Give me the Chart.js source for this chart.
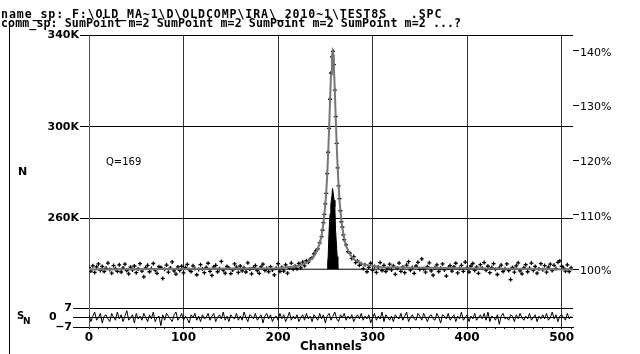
<!DOCTYPE html>
<html>
<head>
<meta charset="utf-8">
<script src="https://cdn.jsdelivr.net/npm/chart.js@4.4.1/dist/chart.umd.min.js"></script>
<style>
  html, body { margin: 0; padding: 0; background: #fff; }
  #wrap { position: relative; width: 640px; height: 354px; overflow: hidden; }
  #c { position: absolute; left: 0; top: 0; }
  .txt { position: absolute; white-space: pre; color: #000; line-height: 1; }
  .hdr { font: bold 11.6px "DejaVu Sans Mono", monospace; left: 1px; }
  .lbl { font: bold 11px "DejaVu Sans", sans-serif; }
  .frame { position: absolute; left: 9px; top: 21px; height: 333px; border-left: 1px solid #000; }
</style>
</head>
<body>
<div id="wrap">
  <canvas id="c" width="640" height="354"></canvas>
  <div class="frame"></div>
  <div class="txt hdr" style="top:7px;letter-spacing:0.9px">name_sp: F:\OLD_MA~1\D\OLDCOMP\IRA\_2010~1\TEST8S   .SPC</div>
  <div class="txt hdr" style="top:16px;letter-spacing:0.1px">comm_sp: SumPoint m=2 SumPoint m=2 SumPoint m=2 SumPoint m=2 ...?</div>
  <div class="txt lbl" style="left:18px;top:165px">N</div>
  <div class="txt" style="left:106px;top:156px;font:10px 'DejaVu Sans',sans-serif">Q=169</div>
  <div class="txt lbl" style="left:17px;top:310px;font-size:10px">S</div>
  <div class="txt lbl" style="left:23px;top:316px;font-size:9px">N</div>
</div>
<script>
// ── data (counts in thousands, channels 0..510 step 2) ──────────
const CH_STEP = 2;
const countsK = [
  238.6,237.1,239.4,236.5,238.9,240.2,237.4,239.1,236.9,238.3,240.6,237.8,236.2,239.5,238.1,237.0,
  239.8,236.7,238.4,240.1,237.3,235.9,238.8,237.6,239.3,236.4,238.0,240.3,237.1,234.6,238.5,239.6,
  236.8,238.2,240.4,237.5,236.1,239.0,238.7,233.9,237.9,239.7,236.6,238.4,241.1,237.2,235.8,238.9,
  237.4,239.2,236.3,238.6,240.0,237.7,236.9,239.4,238.2,235.5,237.8,239.9,238.0,236.4,238.7,240.5,
  237.0,235.2,238.9,239.6,236.8,238.1,241.3,237.5,236.2,239.1,238.4,236.0,237.6,240.2,238.8,236.5,
  239.3,237.2,238.5,236.7,240.7,238.0,235.9,238.6,239.5,237.3,236.1,238.9,240.1,237.4,238.2,236.8,
  239.0,237.6,235.4,238.3,240.3,236.9,238.7,237.1,239.8,236.2,238.4,240.6,237.9,239.2,238.1,240.4,
  238.5,241.0,239.4,241.6,240.9,242.3,242.9,244.6,245.9,246.8,249.4,252.1,258.2,266.4,279.6,299.3,
  323.4,332.9,316.0,292.8,274.2,263.4,256.3,250.8,248.5,245.6,244.9,242.6,243.4,240.8,241.5,239.6,
  240.3,238.2,239.9,236.8,238.7,240.5,237.4,239.1,236.5,238.9,240.8,237.3,239.6,236.9,238.2,240.1,
  237.6,239.4,235.7,238.3,240.6,237.0,238.8,236.4,239.7,241.2,237.5,238.6,236.1,239.3,240.9,237.8,
  242.4,238.1,236.6,239.0,240.7,237.2,235.3,238.5,239.8,236.9,238.3,240.2,237.6,234.9,238.4,239.5,
  237.1,238.9,240.5,236.3,238.2,239.6,237.0,241.0,238.6,236.7,239.3,240.4,237.4,238.8,236.1,239.9,
  238.3,240.8,237.5,239.2,236.4,238.6,240.3,237.9,235.6,238.4,239.7,236.9,238.1,240.2,237.3,233.4,
  238.7,236.6,239.4,240.7,237.2,235.9,238.5,239.9,236.8,238.3,240.6,237.4,239.1,236.2,238.0,240.3,
  237.7,239.5,236.6,238.8,240.1,237.3,239.6,238.2,240.9,241.5,239.2,238.4,237.1,239.8,236.9,238.5
];
// odd channels read around the peak
const peakOddCh      = [247, 249, 251, 253, 255, 257, 259, 261, 263, 265, 267, 269];
const peakOddCountsK = [254.9, 261.8, 271.0, 288.9, 312.0, 330.5, 327.1, 304.4, 282.1, 268.7, 258.6, 252.9];

// fitted curve
const fitCh      = [0, 200, 220, 230, 236, 240, 244, 246, 248, 250, 251, 252, 253, 254, 255, 256, 257, 257.7, 258.5, 259, 260, 261, 262, 263, 264, 265, 266, 268, 270, 272, 276, 280, 290, 310, 512];
const fitCountsK = [237.8, 238.3, 239.2, 240.6, 242.6, 244.8, 249.0, 252.5, 257.8, 266.0, 271.7, 279.0, 288.3, 299.0, 311.4, 322.9, 331.0, 332.8, 331.5, 326.8, 316.3, 304.0, 292.4, 282.6, 274.5, 268.0, 263.0, 256.0, 251.3, 248.0, 244.4, 242.3, 240.0, 238.8, 237.8];

// baseline and integrated (filled) area
const baseK = 237.9;
const baseCh = [0, 512];
const areaCh      = [252.3, 252.5, 253, 254, 255, 255.8, 257, 257.6, 258.4, 259.3, 260.1, 260.8, 262, 262.5, 263.2, 263.2];
const areaCountsK = [237.9, 241, 243.4, 255, 262, 266, 270, 273.1, 271, 268, 265.1, 255, 247, 243.4, 240, 237.9];

// residuals S_N (channels 0..510 step 2)
const resid = [
  2,-3,1,4,-2,0,3,-4,1,2,-1,-3,3,0,-2,4,
  -1,2,-3,1,5,-2,0,2,-4,3,-1,1,-2,3,0,-3,
  2,-1,4,-3,0,1,-6,2,-2,3,1,-1,-3,2,4,-2,
  0,3,-2,1,-1,-4,2,0,3,-2,1,-3,2,-1,0,3,
  -2,1,3,-3,0,2,-1,4,-2,1,-3,2,0,-1,3,-2,
  1,-2,4,0,-3,2,1,-1,3,-2,0,2,-4,1,3,-1,
  2,-3,0,1,-2,3,-1,2,-3,0,4,-2,1,-1,2,-3,
  0,2,-2,3,-1,1,-3,2,0,-2,3,-1,2,-4,1,3,
  -2,1,4,-1,-3,2,0,3,-2,1,-1,2,-3,0,2,-1,
  3,-2,1,-1,2,-4,0,3,-2,1,-1,4,-3,2,0,-2,
  1,-3,2,0,-1,3,-2,1,4,-3,0,2,-1,-2,3,1,
  -2,3,0,-3,1,2,-1,-2,3,0,-4,2,1,-1,3,-2,
  0,2,-3,1,-1,4,-2,0,2,-3,1,-1,3,-2,0,2,
  -1,3,-2,4,-3,1,0,-2,2,-5,1,3,-1,0,-2,2,
  1,-3,2,-1,3,0,-2,1,-1,3,-2,0,2,-3,1,-1,
  2,-1,3,-2,0,4,-1,2,-3,1,2,0,-2,3,-1,1
];

const yTicksK     = [260, 300, 340];
const residTicks  = [-7, 0, 7];
const pctTicks    = [100, 110, 120, 130, 140];
const xMax = 512;

// ── geometry of the axes ───────────────────────────────────
const Y_MIN = 221, Y_MAX = 340;
const MAIN_PX = 273, RES_PX = 19;
const pxPerK = MAIN_PX / (Y_MAX - Y_MIN);
const pctMax = Y_MAX / baseK * 100;
const pctMin = (Y_MIN - RES_PX / pxPerK) / baseK * 100;

const pts = countsK.map((v, i) => ({ x: i * CH_STEP, y: v }))
  .concat(peakOddCh.map((c, i) => ({ x: c, y: peakOddCountsK[i] })));
const xy = (xs, ys) => xs.map((x, i) => ({ x, y: ys[i] }));

const fixed = (w, h) => s => { if (w != null) s.width = w; if (h != null) s.height = h; };
const setTicks = arr => s => { s.ticks = arr.map(v => ({ value: v })); };

const bold11 = { family: 'DejaVu Sans', size: 11, weight: 'bold' };

new Chart(document.getElementById('c'), {
  type: 'scatter',
  data: {
    datasets: [
      {
        data: xy(areaCh, areaCountsK), showLine: true, yAxisID: 'y',
        borderColor: '#000', backgroundColor: '#000', borderWidth: 1,
        fill: { value: baseK }, pointRadius: 0, tension: 0,
      },
      {
        data: xy(fitCh, fitCountsK), showLine: true, yAxisID: 'y',
        borderColor: '#777', borderWidth: 2, pointRadius: 0, tension: 0,
      },
      {
        data: xy(baseCh, [baseK, baseK]), showLine: true, yAxisID: 'y',
        borderColor: '#000', borderWidth: 1, pointRadius: 0,
      },
      {
        data: pts, yAxisID: 'y', showLine: false,
        pointStyle: 'cross', pointRadius: 2, borderWidth: 1.3,
        borderColor: '#000', backgroundColor: '#000',
      },
      {
        data: resid.map((v, i) => ({ x: i * CH_STEP, y: v })), yAxisID: 'y2',
        showLine: true, borderColor: '#000', borderWidth: 1, pointRadius: 0, tension: 0,
      },
    ],
  },
  options: {
    responsive: false,
    animation: false,
    layout: { padding: { top: 35, left: 0, right: 0, bottom: 0 } },
    plugins: { legend: { display: false }, tooltip: { enabled: false } },
    scales: {
      x: {
        type: 'linear', min: 0, max: xMax,
        afterBuildTicks: s => {
          const t = [];
          for (let v = 0; v < xMax; v += 10) t.push({ value: v });
          s.ticks = t;
        },
        afterFit: fixed(null, 27),
        grid: {
          color: c => (c.tick && c.tick.value % 100 === 0) ? '#333' : 'rgba(0,0,0,0)',
          tickColor: '#000', tickLength: 2, lineWidth: 1,
        },
        border: { display: true, color: '#000' },
        ticks: {
          autoSkip: false, maxRotation: 0, padding: 2, color: '#000',
          font: { family: 'DejaVu Sans', size: 12, weight: 'bold' },
          callback: v => v % 100 === 0 ? String(v) : '',
        },
        title: {
          display: true, text: 'Channels', color: '#000', padding: { top: 0, bottom: 0 },
          font: { family: 'DejaVu Sans', size: 12, weight: 'bold' },
        },
      },
      y: {
        position: 'left', stack: 'left', stackWeight: MAIN_PX, weight: 2,
        min: Y_MIN, max: Y_MAX,
        afterBuildTicks: setTicks(yTicksK),
        afterFit: fixed(89, null),
        grid: { color: '#000', tickColor: '#000', tickLength: 9 },
        border: { display: true, color: '#555' },
        ticks: { autoSkip: false, color: '#000', padding: 1, font: bold11, callback: v => v + 'K' },
      },
      y2: {
        position: 'left', stack: 'left', stackWeight: RES_PX, weight: 1,
        min: -7, max: 7,
        afterBuildTicks: setTicks(residTicks),
        afterFit: fixed(89, null),
        grid: { color: '#000', tickColor: '#000', tickLength: 16 },
        border: { display: true, color: '#555' },
        ticks: {
          autoSkip: false, color: '#000', padding: 1, font: bold11,
          callback: v => v === 0 ? '0    ' : (v < 0 ? '\u2212' + Math.abs(v) : String(v)),
        },
      },
      y3: {
        position: 'right', min: pctMin, max: pctMax,
        afterBuildTicks: setTicks(pctTicks),
        afterFit: fixed(67, null),
        grid: { drawOnChartArea: false, tickColor: '#000', tickLength: 6 },
        border: { display: false },
        ticks: {
          autoSkip: false, color: '#000', padding: 1, labelOffset: 2,
          font: { family: 'DejaVu Sans', size: 11 },
          callback: v => v + '%',
        },
      },
    },
  },
});
</script>
</body>
</html>
